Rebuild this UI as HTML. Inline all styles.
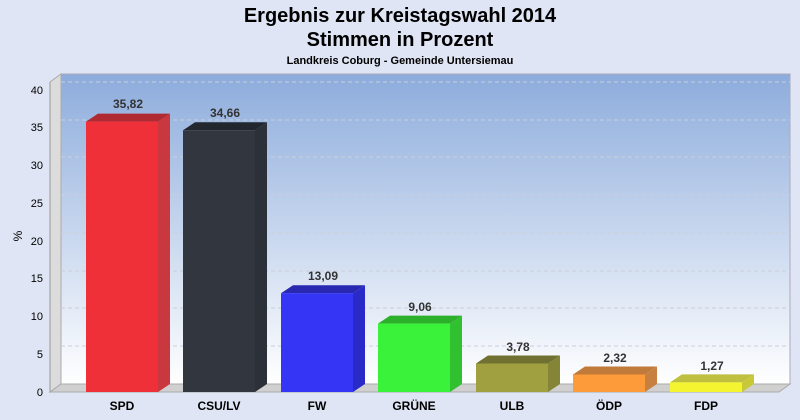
<!DOCTYPE html><html><head><meta charset="utf-8"><style>body{margin:0;background:#dfe5f4;font-family:"Liberation Sans",sans-serif;overflow:hidden}</style></head><body>
<svg width="800" height="420" xmlns="http://www.w3.org/2000/svg" font-family="Liberation Sans, sans-serif" style="display:block">
<defs>
<linearGradient id="wall" x1="0" y1="0" x2="0" y2="1"><stop offset="0" stop-color="#8dacdc"/><stop offset="1" stop-color="#ffffff"/></linearGradient>
</defs>
<rect width="800" height="420" fill="#dfe5f4"/>
<text x="400" y="22" text-anchor="middle" font-size="20" font-weight="bold">Ergebnis zur Kreistagswahl 2014</text>
<text x="400" y="46" text-anchor="middle" font-size="20" font-weight="bold">Stimmen in Prozent</text>
<text x="400" y="64" text-anchor="middle" font-size="11" font-weight="bold">Landkreis Coburg - Gemeinde Untersiemau</text>
<rect x="61" y="74" width="729" height="310" fill="url(#wall)" stroke="#aab" stroke-width="1"/>
<polygon points="50,82 61,74 61,384 50,392" fill="#dcdcdc" stroke="#aaa"/>
<polygon points="50,392 61,384 790,384 779,392" fill="#d0d0d0" stroke="#aaa"/>
<g stroke="#c8cfdc" stroke-dasharray="4,3" stroke-width="1">
<line x1="61" y1="346" x2="790" y2="346"/><line x1="61" y1="308" x2="790" y2="308"/><line x1="61" y1="271" x2="790" y2="271"/><line x1="61" y1="233" x2="790" y2="233"/><line x1="61" y1="195" x2="790" y2="195"/><line x1="61" y1="157" x2="790" y2="157"/><line x1="61" y1="120" x2="790" y2="120"/><line x1="61" y1="82" x2="790" y2="82"/>
</g>
<line x1="50" y1="82" x2="50" y2="392" stroke="#999"/>
<g font-size="11" text-anchor="end">
<text x="43" y="396">0</text><text x="43" y="358">5</text><text x="43" y="320">10</text><text x="43" y="282">15</text><text x="43" y="245">20</text><text x="43" y="207">25</text><text x="43" y="169">30</text><text x="43" y="131">35</text><text x="43" y="94">40</text>
</g>
<text x="22" y="236" font-size="12" transform="rotate(-90 22 236)" text-anchor="middle">%</text>

<g font-size="12" font-weight="bold" text-anchor="middle">
<polygon points="158,121.6 170,113.6 170,384 158,392" fill="#c9383e"/>
<polygon points="86,121.6 98,113.6 170,113.6 158,121.6" fill="#b02a32"/>
<rect x="86" y="121.6" width="72" height="270.4" fill="#f03038"/>
<text x="128" y="108" fill="#333">35,82</text>
<text x="122" y="410">SPD</text>

<polygon points="255,130.3 267,122.3 267,384 255,392" fill="#2c3038"/>
<polygon points="183,130.3 195,122.3 267,122.3 255,130.3" fill="#22262e"/>
<rect x="183" y="130.3" width="72" height="261.7" fill="#32363e"/>
<text x="225" y="117" fill="#333">34,66</text>
<text x="219" y="410">CSU/LV</text>

<polygon points="353,293.2 365,285.2 365,384 353,392" fill="#2a2ac8"/>
<polygon points="281,293.2 293,285.2 365,285.2 353,293.2" fill="#2828b0"/>
<rect x="281" y="293.2" width="72" height="98.8" fill="#3535f5"/>
<text x="323" y="280" fill="#333">13,09</text>
<text x="317" y="410">FW</text>

<polygon points="450,323.6 462,315.6 462,384 450,392" fill="#30c030"/>
<polygon points="378,323.6 390,315.6 462,315.6 450,323.6" fill="#2cb02c"/>
<rect x="378" y="323.6" width="72" height="68.4" fill="#3af23a"/>
<text x="420" y="311" fill="#333">9,06</text>
<text x="414" y="410">GRÜNE</text>

<polygon points="548,363.5 560,355.5 560,384 548,392" fill="#858538"/>
<polygon points="476,363.5 488,355.5 560,355.5 548,363.5" fill="#707030"/>
<rect x="476" y="363.5" width="72" height="28.5" fill="#a0a040"/>
<text x="518" y="351" fill="#333">3,78</text>
<text x="512" y="410">ULB</text>

<polygon points="645,374.5 657,366.5 657,384 645,392" fill="#c88040"/>
<polygon points="573,374.5 585,366.5 657,366.5 645,374.5" fill="#c07a3a"/>
<rect x="573" y="374.5" width="72" height="17.5" fill="#fd9a3a"/>
<text x="615" y="362" fill="#333">2,32</text>
<text x="609" y="410">ÖDP</text>

<polygon points="742,382.4 754,374.4 754,384 742,392" fill="#c8c838"/>
<polygon points="670,382.4 682,374.4 754,374.4 742,382.4" fill="#c0c040"/>
<rect x="670" y="382.4" width="72" height="9.6" fill="#f4f430"/>
<text x="712" y="370" fill="#333">1,27</text>
<text x="706" y="410">FDP</text>
</g>
</svg></body></html>
